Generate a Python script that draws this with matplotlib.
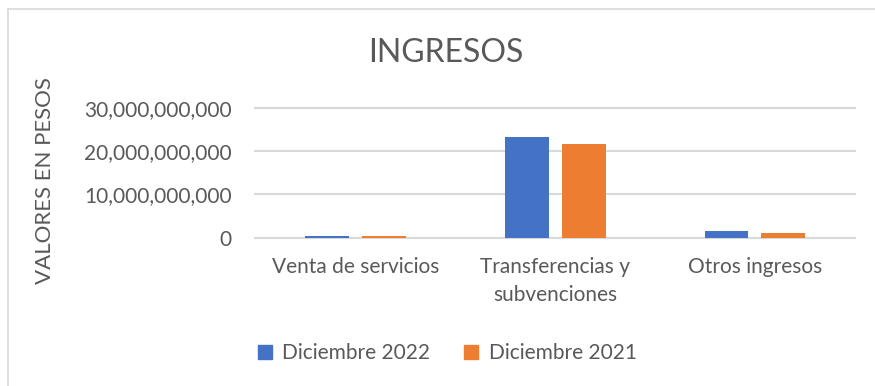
import matplotlib.pyplot as plt
from matplotlib.lines import Line2D
from matplotlib.ticker import FuncFormatter

# Ingresos por concepto (valores en pesos)
categorias = ['Venta de servicios', 'Transferencias y\nsubvenciones', 'Otros ingresos']
dic_2022 = [460_000_000, 23_200_000_000, 1_620_000_000]
dic_2021 = [310_000_000, 21_600_000_000, 1_000_000_000]
series = ['Diciembre 2022', 'Diciembre 2021']
colores = ['#4472C4', '#ED7D31']
ticks_y = [0, 10_000_000_000, 20_000_000_000, 30_000_000_000]

gris_texto = '#595959'
gris_linea = '#D9D9D9'

plt.rcParams['font.family'] = ['Lato', 'DejaVu Sans']

fig = plt.figure(figsize=(8.75, 3.86), dpi=100)
ax = fig.add_axes([0.292, 0.384, 0.685, 0.337])

x = range(len(categorias))
ancho = 0.22
desp = 0.1425
ax.bar([i - desp for i in x], dic_2022, width=ancho, color=colores[0], zorder=3)
ax.bar([i + desp for i in x], dic_2021, width=ancho, color=colores[1], zorder=3)

ax.set_xlim(-0.5, 2.5)
ax.set_ylim(0, 30_000_000_000)
ax.set_yticks(ticks_y)
ax.yaxis.set_major_formatter(FuncFormatter(lambda v, p: f'{v:,.0f}'))
ax.set_xticks(list(x))
ax.set_xticklabels(categorias, linespacing=1.5)

ax.tick_params(axis='y', length=0, pad=17, labelsize=15, labelcolor=gris_texto)
ax.tick_params(axis='x', length=0, pad=14, labelsize=15, labelcolor=gris_texto)

for s in ax.spines.values():
    s.set_visible(False)
ax.yaxis.grid(True, color=gris_linea, linewidth=1.5)
ax.set_axisbelow(True)
for g in ax.get_ygridlines():
    g.set_clip_on(False)

fig.text(446 / 875, 1 - 53 / 386, 'INGRESOS', ha='center', va='center',
         fontsize=23, color=gris_texto)
fig.text(45 / 875, 1 - 181 / 386, 'VALORES EN PESOS', rotation=90,
         ha='center', va='center', fontsize=16, color=gris_texto)

handles = [Line2D([], [], marker='s', ls='', color=c, markersize=9.5) for c in colores]
fig.legend(handles, series, ncol=2, loc='center', bbox_to_anchor=(447 / 875, 1 - 353 / 386),
           frameon=False, fontsize=15, labelcolor=gris_texto, handlelength=0.7,
           handletextpad=0.5, columnspacing=1.6)

# marco exterior del gráfico
fig.add_artist(Line2D([7.5 / 875, 1], [1 - 9 / 386, 1 - 9 / 386], color=gris_linea, lw=1.2))
fig.add_artist(Line2D([7.5 / 875, 7.5 / 875], [0, 1 - 9 / 386], color=gris_linea, lw=1.2))

fig.savefig('out.png', dpi=100)
